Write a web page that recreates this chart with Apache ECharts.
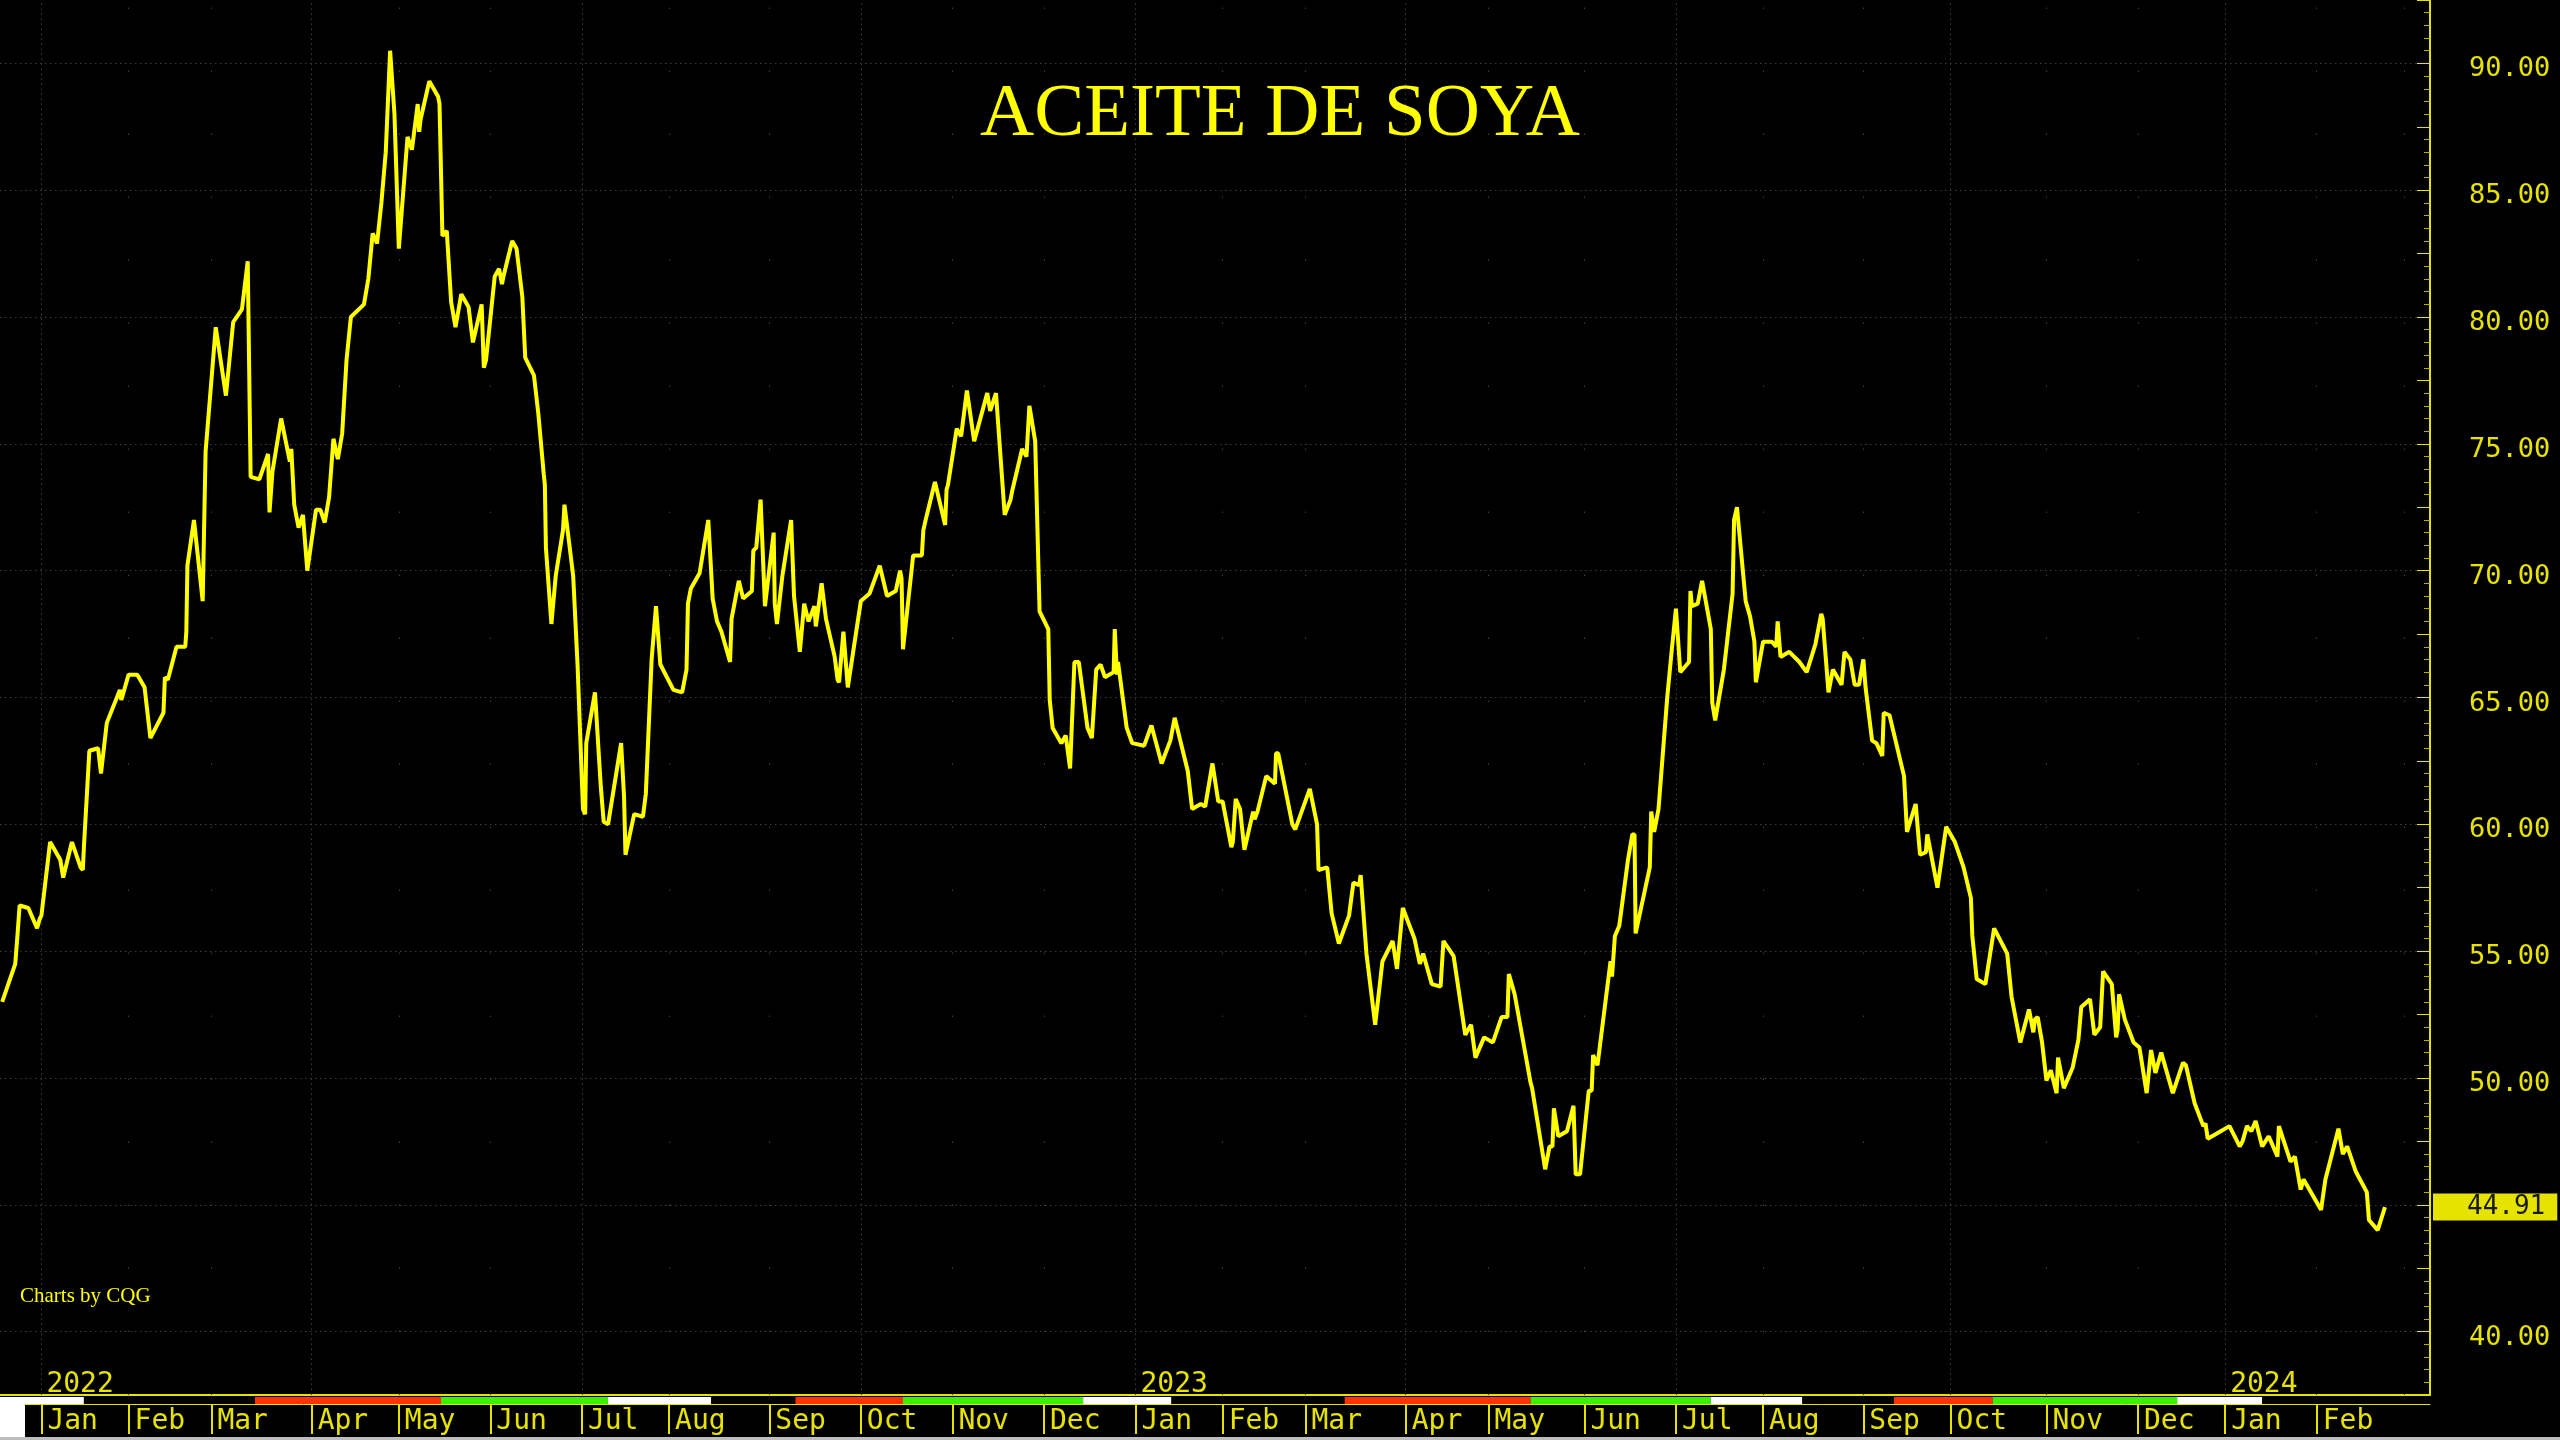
<!DOCTYPE html>
<html><head><meta charset="utf-8">
<script src="https://cdn.jsdelivr.net/npm/echarts@6/dist/echarts.min.js"></script>
<style>html,body{margin:0;padding:0;background:#000;} #c{width:2560px;height:1440px;}</style>
</head><body><div id="c"></div>
<script>
// ---- data ----
const dates2022 = ['2021-12-20','2021-12-23','2021-12-25','2021-12-27','2021-12-29','2021-12-31','2022-01-02','2022-01-03','2022-01-05','2022-01-08','2022-01-10','2022-01-12','2022-01-14','2022-01-16','2022-01-17','2022-01-19','2022-01-21','2022-01-23','2022-01-25','2022-01-28','2022-01-29','2022-02-01','2022-02-03','2022-02-05','2022-02-06','2022-02-08','2022-02-11','2022-02-12','2022-02-14','2022-02-16','2022-02-18','2022-02-19','2022-02-20','2022-02-23','2022-02-25','2022-02-27','2022-03-02','2022-03-05','2022-03-08','2022-03-10','2022-03-12','2022-03-14','2022-03-16','2022-03-18','2022-03-19','2022-03-21','2022-03-23','2022-03-25','2022-03-26','2022-03-28','2022-03-29','2022-03-30','2022-03-31','2022-04-04','2022-04-05','2022-04-06','2022-04-07','2022-04-08','2022-04-11','2022-04-12','2022-04-13','2022-04-14','2022-04-20','2022-04-21','2022-04-22','2022-04-25','2022-04-26','2022-04-27','2022-04-28','2022-04-29','2022-05-02','2022-05-04','2022-05-05','2022-05-07','2022-05-08','2022-05-09','2022-05-11','2022-05-13','2022-05-14','2022-05-16','2022-05-17','2022-05-18','2022-05-19','2022-05-21','2022-05-24','2022-05-25','2022-05-27','2022-05-29','2022-05-31','2022-06-02','2022-06-03','2022-06-05','2022-06-06','2022-06-08','2022-06-09','2022-06-11','2022-06-13','2022-06-15','2022-06-16','2022-06-18','2022-06-19','2022-06-20','2022-06-22','2022-06-23','2022-06-26','2022-06-27','2022-06-29','2022-06-30','2022-07-02','2022-07-04','2022-07-05','2022-07-07','2022-07-09','2022-07-11','2022-07-12','2022-07-15','2022-07-17','2022-07-18','2022-07-20','2022-07-22','2022-07-24','2022-07-26','2022-07-27','2022-07-28','2022-08-02','2022-08-04','2022-08-05','2022-08-06','2022-08-08','2022-08-10','2022-08-12','2022-08-13','2022-08-15','2022-08-16','2022-08-17','2022-08-19','2022-08-20','2022-08-23','2022-08-24','2022-08-26','2022-08-27','2022-08-29','2022-08-30','2022-08-31','2022-09-02','2022-09-03','2022-09-05','2022-09-07','2022-09-09','2022-09-10','2022-09-11','2022-09-13','2022-09-14','2022-09-15','2022-09-17','2022-09-18','2022-09-20','2022-09-21','2022-09-23','2022-09-25','2022-09-26','2022-09-27','2022-09-28','2022-10-03','2022-10-05','2022-10-08','2022-10-11','2022-10-13','2022-10-14','2022-10-15','2022-10-16','2022-10-19','2022-10-21','2022-10-22','2022-10-24','2022-10-26','2022-10-29','2022-10-30','2022-10-31','2022-11-02','2022-11-03','2022-11-05','2022-11-08','2022-11-11','2022-11-13','2022-11-15','2022-11-17','2022-11-19','2022-11-20','2022-11-23','2022-11-25','2022-11-27','2022-11-29','2022-11-30','2022-12-02','2022-12-03','2022-12-05','2022-12-07','2022-12-08','2022-12-09','2022-12-12','2022-12-13','2022-12-15','2022-12-16','2022-12-19','2022-12-20','2022-12-21','2022-12-23','2022-12-24','2022-12-26','2022-12-27','2022-12-29','2022-12-31'];
const prices2022 = [53.0,54.5,55.6,56.8,56.7,55.9,56.3,56.4,59.3,58.6,57.9,59.3,58.3,58.2,59.1,62.9,63.0,62.0,64.0,65.3,64.9,65.9,65.9,65.5,65.4,63.4,64.4,65.8,65.7,67.0,67.0,67.6,70.2,72.0,68.8,74.7,79.6,76.9,79.8,80.3,82.2,73.7,73.6,74.6,72.3,73.9,76.0,74.3,74.8,72.6,71.7,72.2,70.0,72.4,72.4,71.9,72.9,75.2,74.4,75.4,78.3,80.0,80.5,81.5,83.3,82.9,84.5,86.5,90.5,88.0,82.7,87.1,86.6,88.4,87.3,87.8,89.3,88.7,88.4,83.2,83.4,80.6,79.6,80.9,80.4,79.0,80.5,78.0,78.3,81.6,81.9,81.3,81.6,83.0,82.7,80.8,78.4,77.7,76.2,73.8,73.4,70.9,67.9,69.8,71.6,72.6,69.8,66.3,60.6,60.4,63.2,65.2,61.5,60.1,60.0,63.2,61.1,58.8,60.4,60.3,61.2,66.5,68.6,66.3,65.3,65.2,66.1,68.7,69.3,69.9,72.0,72.0,68.9,68.0,67.6,66.4,68.1,69.6,68.9,69.2,70.8,70.9,72.8,68.6,71.5,68.7,67.9,69.8,72.0,72.0,69.0,66.8,68.7,68.0,68.6,67.8,69.5,68.1,66.6,65.7,65.6,67.6,65.4,68.8,69.1,70.2,69.0,69.2,70.0,69.7,66.9,70.6,70.6,71.6,72.1,73.5,71.8,73.2,73.4,75.6,75.3,77.1,75.1,77.0,76.3,77.0,72.2,72.8,73.1,74.8,74.5,76.5,75.1,68.4,67.7,64.9,63.8,63.2,63.5,62.2,66.4,66.4,63.8,63.4,66.1,66.3,65.8,66.0,67.7,65.9,66.4,63.8,63.2];

const dates2023 = ['2023-01-05','2023-01-08','2023-01-11','2023-01-13','2023-01-14','2023-01-17','2023-01-20','2023-01-21','2023-01-23','2023-01-25','2023-01-26','2023-01-29','2023-01-31','2023-02-01','2023-02-03','2023-02-04','2023-02-06','2023-02-07','2023-02-08','2023-02-10','2023-02-11','2023-02-13','2023-02-15','2023-02-17','2023-02-18','2023-02-20','2023-02-24','2023-02-26','2023-03-02','2023-03-05','2023-03-06','2023-03-08','2023-03-09','2023-03-12','2023-03-15','2023-03-16','2023-03-18','2023-03-19','2023-03-21','2023-03-23','2023-03-26','2023-03-29','2023-03-30','2023-04-01','2023-04-05','2023-04-07','2023-04-10','2023-04-12','2023-04-14','2023-04-16','2023-04-19','2023-04-23','2023-04-25','2023-04-26','2023-04-28','2023-05-02','2023-05-04','2023-05-06','2023-05-07','2023-05-09','2023-05-14','2023-05-15','2023-05-18','2023-05-19','2023-05-21','2023-05-22','2023-05-23','2023-05-25','2023-05-28','2023-05-30','2023-05-31','2023-06-02','2023-06-04','2023-06-05','2023-06-06','2023-06-09','2023-06-10','2023-06-12','2023-06-13','2023-06-15','2023-06-16','2023-06-18','2023-06-19','2023-06-20','2023-06-23','2023-06-24','2023-06-26','2023-06-27','2023-06-29','2023-06-30','2023-07-03','2023-07-05','2023-07-07','2023-07-08','2023-07-09','2023-07-11','2023-07-12','2023-07-14','2023-07-15','2023-07-17','2023-07-19','2023-07-21','2023-07-22','2023-07-24','2023-07-26','2023-07-27','2023-07-28','2023-07-29','2023-08-01','2023-08-03','2023-08-04','2023-08-05','2023-08-07','2023-08-09','2023-08-12','2023-08-15','2023-08-17','2023-08-19','2023-08-20','2023-08-22','2023-08-23','2023-08-25','2023-08-27','2023-08-28','2023-08-29','2023-08-30','2023-08-31','2023-09-01','2023-09-03','2023-09-06','2023-09-07','2023-09-09','2023-09-10','2023-09-12','2023-09-16','2023-09-18','2023-09-20','2023-09-21','2023-09-23','2023-09-24','2023-09-27','2023-09-29','2023-10-03','2023-10-05','2023-10-08','2023-10-09','2023-10-10','2023-10-12','2023-10-16','2023-10-19','2023-10-20','2023-10-21','2023-10-24','2023-10-26','2023-10-27','2023-10-28','2023-10-30','2023-10-31','2023-11-01','2023-11-02','2023-11-04','2023-11-05','2023-11-07','2023-11-09','2023-11-11','2023-11-13','2023-11-15','2023-11-16','2023-11-18','2023-11-20','2023-11-22','2023-11-24','2023-11-25','2023-11-26','2023-11-28','2023-11-30','2023-12-02','2023-12-05','2023-12-06','2023-12-07','2023-12-09','2023-12-13','2023-12-16','2023-12-18','2023-12-20','2023-12-22','2023-12-24','2023-12-26','2023-12-28'];
const prices2023 = [63.1,63.9,62.4,63.3,63.3,64.2,62.1,62.1,60.6,60.8,60.7,62.4,60.9,60.9,59.1,59.3,61.0,60.6,59.0,60.5,60.2,60.5,61.9,61.6,62.8,62.8,60.0,59.8,61.4,60.0,58.2,58.3,56.5,55.3,56.4,57.7,57.6,58.0,54.9,52.1,54.6,55.4,54.3,56.7,55.5,54.5,54.9,53.7,53.6,55.4,54.8,51.7,52.1,50.8,51.6,51.4,52.4,52.4,54.1,53.3,49.8,49.6,46.4,47.3,47.3,48.8,47.7,47.9,48.9,46.2,46.2,49.5,49.5,50.9,50.5,54.6,54.0,55.6,56.0,58.6,59.6,59.6,55.7,55.7,58.3,60.5,59.7,60.6,65.0,66.8,68.5,66.0,66.4,69.2,68.6,68.7,69.6,67.7,64.8,64.1,66.1,69.1,72.0,72.5,68.8,68.2,67.2,65.6,67.2,67.2,67.0,68.0,66.6,66.8,66.4,66.0,67.1,68.3,68.1,65.2,66.1,65.5,66.8,66.8,66.5,65.5,65.5,66.5,65.4,63.3,63.2,62.7,64.4,64.3,61.9,59.7,60.8,58.8,58.9,59.6,57.5,59.9,59.3,58.3,57.1,55.6,53.9,53.7,55.9,54.9,53.2,53.2,51.4,52.7,51.8,52.3,52.4,51.4,49.9,50.3,49.4,50.8,49.6,50.4,51.5,52.8,53.1,51.7,52.0,54.2,53.7,51.6,51.9,53.3,52.3,51.4,51.2,49.4,51.1,50.2,51.0,49.4,50.6,50.5,49.0,48.1,48.2,47.6,47.8];

const dates2024 = ['2024-01-03','2024-01-06','2024-01-08','2024-01-09','2024-01-10','2024-01-11','2024-01-14','2024-01-17','2024-01-19','2024-01-20','2024-01-21','2024-01-24','2024-01-25','2024-01-27','2024-01-29','2024-02-02','2024-02-05','2024-02-08','2024-02-09','2024-02-12','2024-02-14','2024-02-18','2024-02-20','2024-02-22','2024-02-25'];
const prices2024 = [48.1,47.3,47.5,48.1,47.9,48.3,47.3,47.7,46.9,48.1,48.1,46.7,46.9,45.6,46.0,44.8,46.0,48.0,47.0,47.3,46.3,45.5,44.4,44.0,44.91];

const lastPrice = 44.91;

// trading calendar (CQG spaces bars by trading day)
const calendarStart = '2021-12-20';
const calendarEnd = '2024-03-31';
const holidays = ['2021-12-24','2022-01-17','2022-02-21','2022-04-15','2022-05-30','2022-06-20','2022-07-04','2022-09-05','2022-11-24','2022-12-26','2023-01-02','2023-01-16','2023-02-20','2023-04-07','2023-05-29','2023-06-19','2023-07-04','2023-09-04','2023-11-23','2023-12-25','2024-01-01','2024-01-15','2024-02-19'];

// axis ticks and labels
const monthTickDates = ['2022-01-03','2022-02-01','2022-03-01','2022-04-01','2022-05-02','2022-06-01','2022-07-01','2022-08-01','2022-09-01','2022-10-03','2022-11-01','2022-12-01','2023-01-03','2023-02-01','2023-03-01','2023-04-03','2023-05-01','2023-06-01','2023-07-03','2023-08-01','2023-09-01','2023-10-02','2023-11-01','2023-12-01','2024-01-02','2024-02-01'];
const monthTickLabels = ['Jan','Feb','Mar','Apr','May','Jun','Jul','Aug','Sep','Oct','Nov','Dec','Jan','Feb','Mar','Apr','May','Jun','Jul','Aug','Sep','Oct','Nov','Dec','Jan','Feb'];
const gridMonthDates = monthTickDates.concat(['2024-03-01']);
const yearTickDates = ['2022-01-03','2023-01-03','2024-01-02'];
const yearTickLabels = ['2022','2023','2024'];
const yTickLabels = ['40.00','50.00','55.00','60.00','65.00','70.00','75.00','80.00','85.00','90.00'];

// contract colour strip under the plot
const stripStarts = ['2021-12-20','2022-01-17','2022-03-15','2022-05-15','2022-07-12','2022-08-14','2022-09-12','2022-10-16','2022-12-14','2023-01-14','2023-03-14','2023-05-14','2023-07-14','2023-08-14','2023-09-13','2023-10-15','2023-12-14','2024-01-14'];
const stripEnds   = ['2022-01-17','2022-03-15','2022-05-15','2022-07-12','2022-08-14','2022-09-12','2022-10-16','2022-12-14','2023-01-14','2023-03-14','2023-05-14','2023-07-14','2023-08-14','2023-09-13','2023-10-15','2023-12-14','2024-01-14','2024-03-11'];
const stripKinds  = ['white','black','red','green','white','black','red','green','white','black','red','green','white','black','red','green','white','black'];

// ---- helpers ----
const ts = s => { const p = s.split('-').map(Number); return new Date(p[0], p[1]-1, p[2]).getTime(); };
const pad = n => String(n).padStart(2, '0');
const keyOf = dt => dt.getFullYear() + '-' + pad(dt.getMonth() + 1) + '-' + pad(dt.getDate());
const holidaySet = new Set(holidays);
const tradingDays = [];
for (let dt = new Date(ts(calendarStart)); dt.getTime() <= ts(calendarEnd); dt.setDate(dt.getDate() + 1)) {
  const w = dt.getDay();
  if (w !== 0 && w !== 6 && !holidaySet.has(keyOf(dt))) tradingDays.push(dt.getTime());
}
// date -> trading-day position (non-trading days fall proportionally between sessions)
function tIndex(s) {
  const t = ts(s);
  let i = 0;
  while (i + 1 < tradingDays.length && tradingDays[i + 1] <= t) i++;
  if (tradingDays[i] === t || i + 1 >= tradingDays.length) return i;
  return i + (t - tradingDays[i]) / (tradingDays[i + 1] - tradingDays[i]);
}

const YEL = '#ffff00';
const AX = '#e6e300';
const MONO = "'DejaVu Sans Mono', 'Liberation Mono', monospace";
const SERIF = "'Liberation Serif', 'Times New Roman', serif";
const stripColor = {white:'#ffffff', black:'#000000', red:'#ff3300', green:'#3cf000'};

const allDates = dates2022.concat(dates2023, dates2024);
const allPrices = prices2022.concat(prices2023, prices2024);
const lineData = allDates.map((d, i) => [tIndex(d), allPrices[i]]);

const monthLabelMap = {}; monthTickDates.forEach((d,i)=>{ monthLabelMap[tIndex(d)] = monthTickLabels[i]; });
const yearLabelMap = {}; yearTickDates.forEach((d,i)=>{ yearLabelMap[tIndex(d)] = yearTickLabels[i]; });

const vGrid = gridMonthDates.map(d => {
  const m = Number(d.split('-')[1]);
  const quarter = (m === 1 || m === 4 || m === 7 || m === 10);
  return { xAxis: tIndex(d), lineStyle: { color: '#3d3d3d', width: 1, type: quarter ? [1.5, 3.5] : [1.5, 61.5] }, label: { show: false } };
});

const xMin = -0.5, xMax = 557;

const chart = echarts.init(document.getElementById('c'), null, {renderer: 'canvas'});
chart.setOption({
  backgroundColor: '#000',
  animation: false,
  title: [
    { text: 'ACEITE DE SOYA', left: 'center', top: 73,
      textStyle: { color: YEL, fontFamily: SERIF, fontSize: 75, fontWeight: 'normal' } },
    { text: 'Charts by CQG', left: 15, top: 1281,
      textStyle: { color: YEL, fontFamily: SERIF, fontSize: 21, fontWeight: 'normal' } }
  ],
  grid: [
    { left: 0, right: 130, top: 0, bottom: 45, containLabel: false, outerBoundsMode: 'none' },
    { left: 0, right: 130, top: 1397, height: 7, containLabel: false, outerBoundsMode: 'none' }
  ],
  xAxis: [
    { gridIndex: 0, type: 'value', min: xMin, max: xMax,
      axisLine: { show: true, onZero: false, lineStyle: { color: AX, width: 2 } },
      axisTick: { show: false }, axisLabel: { show: false }, splitLine: { show: false } },
    { gridIndex: 1, type: 'value', position: 'bottom', min: xMin, max: xMax,
      axisLine: { show: true, onZero: false, lineStyle: { color: AX, width: 1 } },
      axisTick: { show: true, customValues: monthTickDates.map(tIndex), length: 30, lineStyle: { color: AX, width: 2 } },
      axisLabel: { show: true, customValues: monthTickDates.map(tIndex), formatter: v => monthLabelMap[v] || '',
        align: 'left', padding: [0, 0, 0, 6], margin: 4, color: AX, fontFamily: MONO, fontSize: 28 },
      splitLine: { show: false } },
    { gridIndex: 1, type: 'value', position: 'top', min: xMin, max: xMax,
      axisLine: { show: false, onZero: false }, axisTick: { show: false },
      axisLabel: { show: true, customValues: yearTickDates.map(tIndex), formatter: v => yearLabelMap[v] || '',
        align: 'left', padding: [0, 0, 0, 5], margin: -2, color: AX, fontFamily: MONO, fontSize: 28 },
      splitLine: { show: false } }
  ],
  yAxis: [
    { gridIndex: 0, type: 'value', position: 'right', min: 37.5, max: 92.5, interval: 2.5,
      axisLine: { show: true, onZero: false, lineStyle: { color: AX, width: 2 } },
      axisTick: { show: true, inside: true, length: 13, lineStyle: { color: AX, width: 1 } },
      minorTick: { show: true, splitNumber: 5, length: 6, lineStyle: { color: '#b8b400', width: 1 } },
      axisLabel: { margin: 39, color: AX, fontFamily: MONO, fontSize: 27, verticalAlign: 'top', lineHeight: 12,
        formatter: v => { const s = Number(v).toFixed(2); return yTickLabels.indexOf(s) >= 0 ? s : ''; } },
      splitLine: { show: true, lineStyle: { color: ['rgba(0,0,0,0)', '#3d3d3d'], width: 1, type: [1.5, 3.5] } } },
    { gridIndex: 1, type: 'value', min: 0, max: 1, show: false }
  ],
  series: [
    { type: 'line', name: 'Aceite de soya', xAxisIndex: 0, yAxisIndex: 0, data: lineData,
      showSymbol: false, symbol: 'none', z: 5,
      lineStyle: { color: YEL, width: 4 },
      markLine: { silent: true, symbol: ['none', 'none'], animation: false,
        data: vGrid.concat([{ yAxis: lastPrice, lineStyle: { color: 'rgba(0,0,0,0)', width: 0 },
          label: { show: true, position: 'end', distance: 3, formatter: lastPrice.toFixed(2),
            backgroundColor: '#e6e300', color: '#1a1a00', fontFamily: MONO, fontSize: 26,
            lineHeight: 26, padding: [1, 12, 0, 34] } }]) } },
    { type: 'custom', name: 'strip', xAxisIndex: 1, yAxisIndex: 1, silent: true,
      data: stripStarts.map((s, i) => [tIndex(s), tIndex(stripEnds[i]), i]),
      encode: { x: [0, 1] },
      renderItem: (params, api) => {
        const p0 = api.coord([api.value(0), 1]);
        const p1 = api.coord([api.value(1), 0]);
        return { type: 'rect', shape: { x: p0[0], y: p0[1], width: p1[0] - p0[0], height: p1[1] - p0[1] },
          style: { fill: stripColor[stripKinds[api.value(2)]] } };
      } }
  ],
  graphic: [
    { type: 'rect', left: 0, top: 1397, shape: { width: 25, height: 40 }, style: { fill: '#ffffff' }, z: 10 },
    { type: 'rect', left: 0, top: 1437, shape: { width: 2560, height: 3 }, style: { fill: '#bdbdbd' }, z: 10 }
  ]
});
</script>
</body></html>
